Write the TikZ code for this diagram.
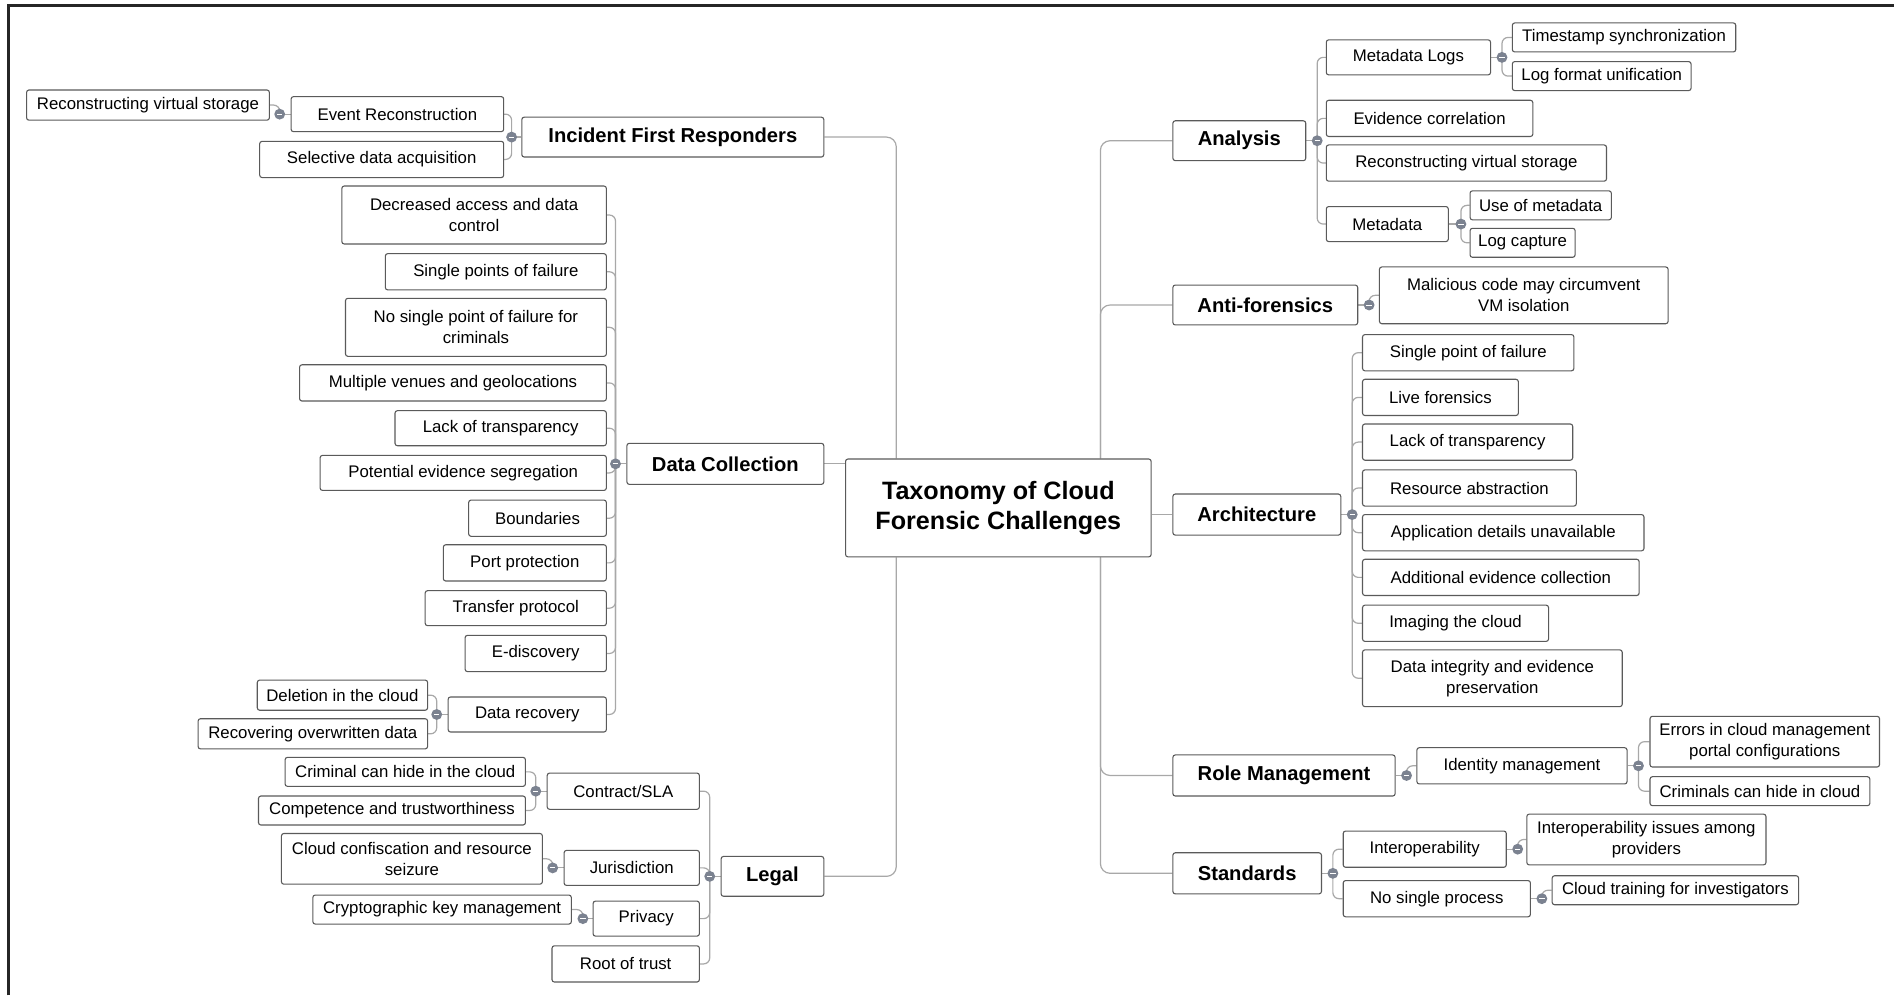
\documentclass[tikz,border=0pt]{standalone}
\usepackage{fontspec}
\setmainfont{Liberation Sans}
\usetikzlibrary{backgrounds}

\definecolor{boxline}{HTML}{5A5A5A}
\definecolor{linkgray}{HTML}{A8A8A8}
\definecolor{knobfill}{HTML}{7B8290}

\tikzset{
  box/.style={draw=boxline, line width=0.9pt, fill=white, rounded corners=2pt,
    inner sep=0pt, align=center, font=\fontsize{13.9}{17.4}\selectfont},
  topic/.style={box, font=\fontsize{16.7}{20}\selectfont\bfseries},
  central/.style={box, font=\fontsize{20.8}{24.8}\selectfont\bfseries},
  link/.style={draw=linkgray, line width=1pt, rounded corners=5pt},
  trunk/.style={draw=linkgray, line width=1pt, rounded corners=8pt},
  knob/.style={circle, fill=knobfill, minimum size=9pt, inner sep=0pt,
    path picture={\draw[white, line width=0.8pt]
      ([xshift=-2.2pt]path picture bounding box.center) --
      ([xshift=2.2pt]path picture bounding box.center);}},
  frame/.style={draw=black!85, line width=2pt},
}

\begin{document}
\begin{tikzpicture}[x=1pt, y=-1pt]
\useasboundingbox (0,0) rectangle (1568,824);

% ---------- central topic ----------
\node[central, minimum width=253pt, minimum height=81pt] (root) at (826.5,420.5)
  {Taxonomy of Cloud\\Forensic Challenges};

% ---------- left: Incident First Responders ----------
\node[topic, minimum width=250pt, minimum height=33pt] (ifr) at (557,113.5) {Incident First Responders};
\node[box, minimum width=176pt, minimum height=29pt] (evr) at (329,94.5) {Event Reconstruction};
\node[box, minimum width=202pt, minimum height=30pt] (sda) at (316,132) {Selective data acquisition};
\node[box, minimum width=201pt, minimum height=25pt] (rvsa) at (122.5,87) {Reconstructing virtual storage};

% ---------- left: Data Collection ----------
\node[topic, minimum width=163pt, minimum height=34pt] (dc) at (600.5,384) {Data Collection};
\node[box, minimum width=219pt, minimum height=48pt] (dac) at (392.5,178) {Decreased access and data\\control};
\node[box, minimum width=183pt, minimum height=30pt] (spf) at (410.5,225) {Single points of failure};
\node[box, minimum width=216pt, minimum height=48pt] (nsp) at (394,271) {No single point of failure for\\criminals};
\node[box, minimum width=254pt, minimum height=30pt] (mvg) at (375,317) {Multiple venues and geolocations};
\node[box, minimum width=175pt, minimum height=29pt] (lota) at (414.5,354.5) {Lack of transparency};
\node[box, minimum width=237pt, minimum height=29pt] (pes) at (383.5,391.5) {Potential evidence segregation};
\node[box, minimum width=114pt, minimum height=30pt] (bnd) at (445,429) {Boundaries};
\node[box, minimum width=135pt, minimum height=30pt] (ppr) at (434.5,466) {Port protection};
\node[box, minimum width=150pt, minimum height=29pt] (tpr) at (427,503.5) {Transfer protocol};
\node[box, minimum width=117pt, minimum height=30pt] (edi) at (443.5,541) {E-discovery};
\node[box, minimum width=131pt, minimum height=29pt] (drc) at (436.5,591.5) {Data recovery};
\node[box, minimum width=141pt, minimum height=25pt] (dic) at (283.5,575.5) {Deletion in the cloud};
\node[box, minimum width=190pt, minimum height=25pt] (row) at (259,607.5) {Recovering overwritten data};

% ---------- left: Legal ----------
\node[topic, minimum width=85pt, minimum height=33pt] (legal) at (639.5,725.5) {Legal};
\node[box, minimum width=126pt, minimum height=30pt] (csla) at (516,655) {Contract/SLA};
\node[box, minimum width=199pt, minimum height=24pt] (chca) at (335.5,639) {Criminal can hide in the cloud};
\node[box, minimum width=221pt, minimum height=24pt] (cat) at (324.5,671) {Competence and trustworthiness};
\node[box, minimum width=112pt, minimum height=29pt] (jur) at (523,718.5) {Jurisdiction};
\node[box, minimum width=216pt, minimum height=42pt] (ccr) at (341,711) {Cloud confiscation and resource\\seizure};
\node[box, minimum width=88pt, minimum height=29pt] (prv) at (535,760.5) {Privacy};
\node[box, minimum width=214pt, minimum height=24pt] (ckm) at (366,753) {Cryptographic key management};
\node[box, minimum width=122pt, minimum height=30pt] (rot) at (518,798) {Root of trust};

% ---------- right: Analysis ----------
\node[topic, minimum width=110pt, minimum height=33pt] (ana) at (1026,116.5) {Analysis};
\node[box, minimum width=136pt, minimum height=29pt] (mdl) at (1166,47.5) {Metadata Logs};
\node[box, minimum width=185pt, minimum height=24pt] (tss) at (1344.5,31) {Timestamp synchronization};
\node[box, minimum width=148pt, minimum height=24pt] (lfu) at (1326,63) {Log format unification};
\node[box, minimum width=171pt, minimum height=30pt] (evc) at (1183.5,98) {Evidence correlation};
\node[box, minimum width=232pt, minimum height=30pt] (rvsb) at (1214,135) {Reconstructing virtual storage};
\node[box, minimum width=101pt, minimum height=29pt] (mdt) at (1148.5,185.5) {Metadata};
\node[box, minimum width=117pt, minimum height=24pt] (uom) at (1275.5,170) {Use of metadata};
\node[box, minimum width=87pt, minimum height=24pt] (lcp) at (1260.5,201) {Log capture};

% ---------- right: Anti-forensics ----------
\node[topic, minimum width=153pt, minimum height=33pt] (afo) at (1047.5,252.5) {Anti-forensics};
\node[box, minimum width=239pt, minimum height=47pt] (mal) at (1261.5,244.5) {Malicious code may circumvent\\VM isolation};

% ---------- right: Architecture ----------
\node[topic, minimum width=139pt, minimum height=34pt] (arc) at (1040.5,426) {Architecture};
\node[box, minimum width=175pt, minimum height=30pt] (spfb) at (1215.5,292) {Single point of failure};
\node[box, minimum width=129pt, minimum height=30pt] (lfo) at (1192.5,329) {Live forensics};
\node[box, minimum width=174pt, minimum height=30pt] (lotb) at (1215,366) {Lack of transparency};
\node[box, minimum width=177pt, minimum height=30pt] (rab) at (1216.5,404) {Resource abstraction};
\node[box, minimum width=233pt, minimum height=30pt] (adu) at (1244.5,441) {Application details unavailable};
\node[box, minimum width=229pt, minimum height=30pt] (aec) at (1242.5,478) {Additional evidence collection};
\node[box, minimum width=154pt, minimum height=30pt] (itc) at (1205,516) {Imaging the cloud};
\node[box, minimum width=215pt, minimum height=47pt] (dip) at (1235.5,561.5) {Data integrity and evidence\\preservation};

% ---------- right: Role Management ----------
\node[topic, minimum width=184pt, minimum height=34pt] (rmg) at (1063,642) {Role Management};
\node[box, minimum width=174pt, minimum height=30pt] (idm) at (1260,634) {Identity management};
\node[box, minimum width=190pt, minimum height=42pt] (ecm) at (1461,614) {Errors in cloud management\\portal configurations};
\node[box, minimum width=182pt, minimum height=24pt] (chcb) at (1457,655) {Criminals can hide in cloud};

% ---------- right: Standards ----------
\node[topic, minimum width=123pt, minimum height=34pt] (std) at (1032.5,723) {Standards};
\node[box, minimum width=135pt, minimum height=30pt] (iop) at (1179.5,703) {Interoperability};
\node[box, minimum width=198pt, minimum height=42pt] (iia) at (1363,695) {Interoperability issues among\\providers};
\node[box, minimum width=155pt, minimum height=30pt] (nspb) at (1189.5,744) {No single process};
\node[box, minimum width=204pt, minimum height=24pt] (ctf) at (1387,737) {Cloud training for investigators};

% ---------- collapse knobs ----------
\node[knob] (k-ifr)   at ([xshift=-8pt]ifr.west) {};
\node[knob] (k-evr)   at ([xshift=-9pt]evr.west) {};
\node[knob] (k-dc)    at ([xshift=-9pt]dc.west) {};
\node[knob] (k-drc)   at ([xshift=-9pt]drc.west) {};
\node[knob] (k-legal) at ([xshift=-9pt]legal.west) {};
\node[knob] (k-csla)  at ([xshift=-9pt]csla.west) {};
\node[knob] (k-jur)   at ([xshift=-9pt]jur.west) {};
\node[knob] (k-prv)   at ([xshift=-8pt]prv.west) {};
\node[knob] (k-ana)   at ([xshift=9pt]ana.east) {};
\node[knob] (k-mdl)   at ([xshift=9pt]mdl.east) {};
\node[knob] (k-mdt)   at ([xshift=10pt]mdt.east) {};
\node[knob] (k-afo)   at ([xshift=9pt]afo.east) {};
\node[knob] (k-arc)   at ([xshift=9pt]arc.east) {};
\node[knob] (k-rmg)   at ([xshift=9pt]rmg.east) {};
\node[knob] (k-idm)   at ([xshift=9pt]idm.east) {};
\node[knob] (k-std)   at ([xshift=9pt]std.east) {};
\node[knob] (k-iop)   at ([xshift=9pt]iop.east) {};
\node[knob] (k-nspb)  at ([xshift=9pt]nspb.east) {};

% ---------- page, frame and connectors, under the boxes ----------
\begin{scope}[on background layer]
  \fill[white] (0,0) rectangle (1568,824);
  \draw[frame] (7,824) -- (7,4.5) -- (1568,4.5);

  \coordinate (tl) at (742,0);
  \coordinate (tr) at (911,0);
  % trunks to the central topic
  \draw[trunk] (ifr.east) -| (tl |- root.north);
  \draw[trunk] (legal.east) -| (tl |- root.south);
  \draw[link] (dc.east) -- (dc.east -| root.west);
  \draw[trunk] (ana.west) -| (tr |- root.north);
  \draw[trunk] (afo.west) -| (tr |- root.north);
  \draw[link] (root.east |- arc.west) -- (arc.west);
  \draw[trunk] (rmg.west) -| (tr |- root.south);
  \draw[trunk] (std.west) -| (tr |- root.south);

  % parent to knob
  \foreach \p in {ifr,evr,dc,drc,legal,csla,jur,prv}
    \draw[link] (\p.west) -- (k-\p.center);
  \foreach \p in {ana,mdl,mdt,afo,arc,rmg,idm,std,iop,nspb}
    \draw[link] (\p.east) -- (k-\p.center);

  % knob brackets, left side
  \foreach \k/\c in {ifr/evr, ifr/sda, evr/rvsa,
      dc/dac, dc/spf, dc/nsp, dc/mvg, dc/lota, dc/pes, dc/bnd, dc/ppr, dc/tpr, dc/edi, dc/drc,
      drc/dic, drc/row,
      legal/csla, legal/jur, legal/prv, legal/rot,
      csla/chca, csla/cat, jur/ccr, prv/ckm}
    \draw[link] (k-\k.center) |- (\c.east);

  % knob brackets, right side
  \foreach \k/\c in {ana/mdl, ana/evc, ana/rvsb, ana/mdt,
      mdl/tss, mdl/lfu, mdt/uom, mdt/lcp,
      afo/mal,
      arc/spfb, arc/lfo, arc/lotb, arc/rab, arc/adu, arc/aec, arc/itc, arc/dip,
      rmg/idm, idm/ecm, idm/chcb,
      std/iop, std/nspb, iop/iia, nspb/ctf}
    \draw[link] (k-\k.center) |- (\c.west);
\end{scope}
\end{tikzpicture}
\end{document}
